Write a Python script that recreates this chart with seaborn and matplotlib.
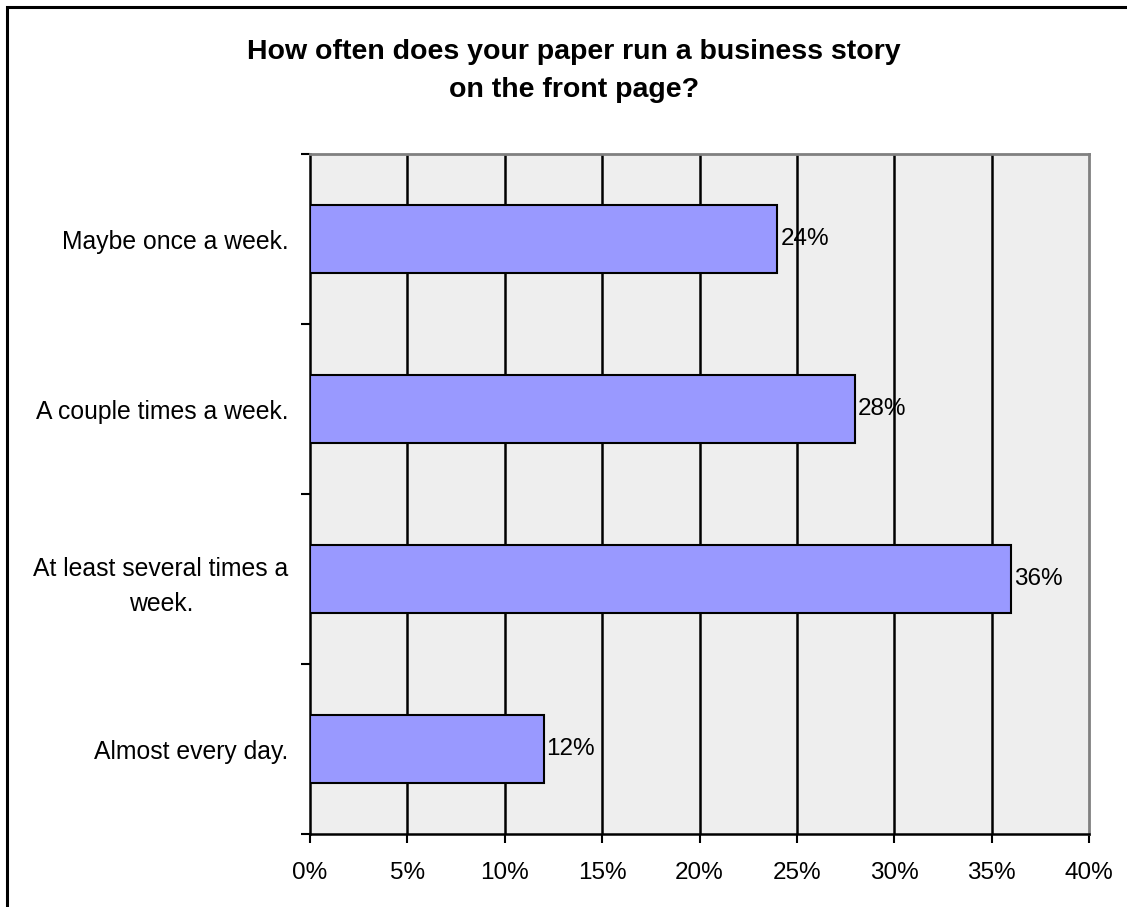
import matplotlib
matplotlib.use("Agg")
import matplotlib.pyplot as plt
import seaborn as sns
import pandas as pd
from matplotlib.patches import Rectangle

categories = [
    "Maybe once a week.",
    "A couple times a week.",
    "At least several times a\nweek.",
    "Almost every day.",
]
values = [24, 28, 36, 12]
x_ticks = [0, 5, 10, 15, 20, 25, 30, 35, 40]
x_tick_labels = [f"{t}%" for t in x_ticks]
title = "How often does your paper run a business story\non the front page?"

sns.set_theme(style="white")
plt.rcParams["font.family"] = ["Liberation Sans", "DejaVu Sans"]
plt.rcParams["text.color"] = "black"
plt.rcParams["xtick.color"] = "black"
plt.rcParams["ytick.color"] = "black"

df = pd.DataFrame({"answer": categories, "share": values})

fig = plt.figure(figsize=(11.27, 9.07), dpi=100)
ax = fig.add_axes([310 / 1127, 1 - 834 / 907, (1089 - 310) / 1127, (834 - 154) / 907])
ax.set_facecolor("#EEEEEE")

sns.barplot(data=df, x="share", y="answer", orient="h", color="#9999FF",
            saturation=1, width=0.4, edgecolor="black", linewidth=1.5, ax=ax,
            zorder=3)

ax.set_xlim(0, 40)
ax.set_ylim(3.5, -0.5)
ax.set_xticks(x_ticks)
ax.set_xticklabels(x_tick_labels, fontsize=17.5)
ax.set_xlabel("")
ax.set_ylabel("")

# vertical gridlines
for t in x_ticks[1:-1]:
    ax.axvline(t, color="black", linewidth=1.8, zorder=1)

ax.set_yticks(range(len(categories)))
ax.set_yticklabels(categories, fontsize=17.8, ha="right", multialignment="center",
                   linespacing=1.55)
ax.tick_params(axis="y", which="major", length=0, pad=15.5)
ax.set_yticks([-0.5, 0.5, 1.5, 2.5, 3.5], minor=True)
ax.tick_params(axis="y", which="minor", length=6.5, width=1.5, color="black",
               direction="out", left=True)
ax.tick_params(axis="x", which="major", length=6.5, width=1.5, color="black",
               direction="out", bottom=True, pad=14)

for side in ["left", "bottom"]:
    ax.spines[side].set_color("black")
    ax.spines[side].set_linewidth(1.8)
for side in ["top", "right"]:
    ax.spines[side].set_color("#808080")
    ax.spines[side].set_linewidth(2)

for i, v in enumerate(values):
    ax.text(v + 0.15, i, f"{v}%", va="center", ha="left", fontsize=17.5,
            color="black", zorder=4)

fig.text(574 / 1127, 1 - 71 / 907, title, ha="center", va="center",
         fontsize=20.5, fontweight="bold", linespacing=1.6, color="black")

fig.patches.append(Rectangle((7 / 1127, -0.1), 1.2, 1 - 7 / 907 + 0.1,
                             transform=fig.transFigure, fill=False,
                             edgecolor="black", linewidth=2.2, zorder=10))

fig.savefig("out.png", dpi=100)
